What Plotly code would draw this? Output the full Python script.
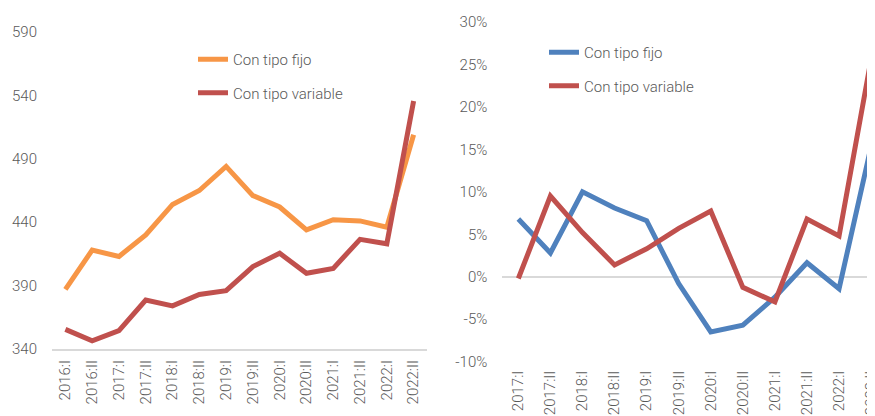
import plotly.graph_objects as go

# Left chart data
left_cats = ["2016:I", "2016:II", "2017:I", "2017:II", "2018:I", "2018:II", "2019:I",
             "2019:II", "2020:I", "2020:II", "2021:I", "2021:II", "2022:I", "2022:II"]
left_fijo = [387, 418, 413, 430, 454, 465, 484, 461, 452, 434, 442, 441, 436, 509]
left_variable = [355.5, 346.5, 354.5, 378.6, 374, 383, 386, 405, 415.5, 399.7, 403.6, 426.5, 423, 535.6]
left_ticks = [340, 390, 440, 490, 540, 590]

# Right chart data (% year-on-year)
right_cats = ["2017:I", "2017:II", "2018:I", "2018:II", "2019:I", "2019:II",
              "2020:I", "2020:II", "2021:I", "2021:II", "2022:I", "2022:II"]
right_fijo = [6.8, 2.8, 10.0, 8.1, 6.6, -0.8, -6.5, -5.7, -2.4, 1.65, -1.4, 15.35]
right_variable = [-0.2, 9.5, 5.2, 1.4, 3.3, 5.7, 7.75, -1.25, -2.95, 6.8, 4.8, 25.65]
right_ticks = [-10, -5, 0, 5, 10, 15, 20, 25, 30]
right_ticktext = ["-10%", "-5%", "0%", "5%", "10%", "15%", "20%", "25%", "30%"]

ORANGE = "#F79646"
RED = "#C0504D"
BLUE = "#4F81BD"
TXT = "#595959"
FONT = dict(family="Roboto", size=15, color=TXT, weight=300)
W, H = 875, 416
OFF = 8  # page body margin


def px(x):
    return (x - OFF) / W


def py(y):
    return (H - (y - OFF)) / H


fig = go.Figure()
fig.add_trace(go.Scatter(x=left_cats, y=left_fijo, name="Con tipo fijo", mode="lines",
                         line=dict(color=ORANGE, width=5), xaxis="x", yaxis="y",
                         legend="legend", legendgroup="a"))
fig.add_trace(go.Scatter(x=left_cats, y=left_variable, name="Con tipo variable", mode="lines",
                         line=dict(color=RED, width=5), xaxis="x", yaxis="y",
                         legend="legend", legendgroup="b"))
fig.add_trace(go.Scatter(x=right_cats, y=right_fijo, name="Con tipo fijo", mode="lines",
                         line=dict(color=BLUE, width=5), xaxis="x2", yaxis="y2",
                         legend="legend2", legendgroup="c"))
fig.add_trace(go.Scatter(x=right_cats, y=right_variable, name="Con tipo variable", mode="lines",
                         line=dict(color=RED, width=5), xaxis="x2", yaxis="y2",
                         legend="legend2", legendgroup="d"))

fig.update_layout(
    width=W, height=H,
    margin=dict(l=0, r=0, t=0, b=0),
    paper_bgcolor="white", plot_bgcolor="white",
    font=FONT,
    xaxis=dict(domain=[px(52), px(427)], anchor="y", type="category",
               range=[-0.5, len(left_cats) - 0.5], tickangle=-90,
               showgrid=False, showline=True, linecolor="#D9D9D9", linewidth=2,
               ticks="", ticklabelstandoff=3, tickfont=FONT, automargin=False),
    yaxis=dict(domain=[py(349), py(32)], anchor="x",
               range=[340, 590], tickvals=left_ticks, showgrid=False, zeroline=False,
               showline=False, ticks="", ticklabelstandoff=14, tickfont=FONT, automargin=False),
    xaxis2=dict(domain=[px(502.3), 1], anchor="y2", type="category",
                range=[-0.5, 11.37], tickangle=-90,
                showgrid=False, showline=False, ticks="", ticklabelstandoff=5,
                tickfont=FONT, automargin=False),
    yaxis2=dict(domain=[py(361.7), py(22)], anchor="x2",
                range=[-10, 30], tickvals=right_ticks, ticktext=right_ticktext,
                showgrid=False, zeroline=True, zerolinecolor="#D9D9D9", zerolinewidth=2,
                showline=False, ticks="", ticklabelstandoff=14, tickfont=FONT, automargin=False),
    legend=dict(x=px(193), y=py(43), xanchor="left", yanchor="top",
                bgcolor="rgba(0,0,0,0)", font=FONT, tracegroupgap=11, itemwidth=30),
    legend2=dict(x=px(544), y=py(36), xanchor="left", yanchor="top",
                 bgcolor="rgba(0,0,0,0)", font=FONT, tracegroupgap=11, itemwidth=30),
    showlegend=True,
)

fig.write_html("out.html")
